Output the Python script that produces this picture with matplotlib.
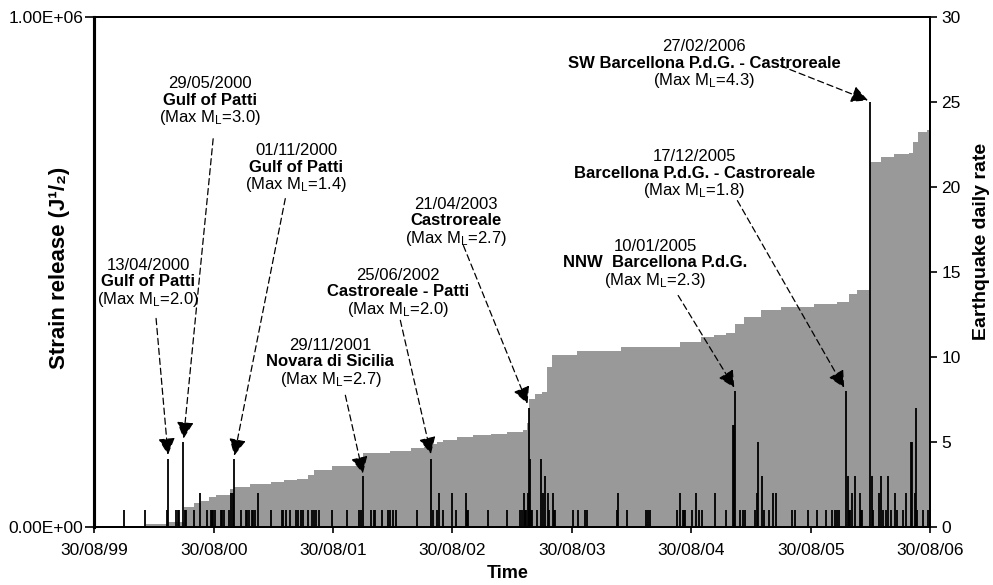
import matplotlib
matplotlib.use("Agg")
import matplotlib.pyplot as plt
import matplotlib.dates as mdates
from datetime import datetime, timedelta

plt.rcParams["font.family"] = ["Liberation Sans", "DejaVu Sans"]
plt.rcParams["mathtext.fontset"] = "custom"
plt.rcParams["mathtext.rm"] = "Liberation Sans"
plt.rcParams["mathtext.default"] = "regular"

# cumulative strain release (step curve), decimal years
strain_years = [2000.094, 2000.27, 2000.415, 2000.50, 2000.555, 2000.62, 2000.68, 2000.80,
                2000.835, 2000.97, 2001.14, 2001.25, 2001.36, 2001.45, 2001.50, 2001.65,
                2001.91, 2002.14, 2002.31, 2002.42, 2002.475, 2002.53, 2002.58, 2002.70,
                2002.835, 2002.98, 2003.12, 2003.25, 2003.285, 2003.30, 2003.355, 2003.41,
                2003.45, 2003.495, 2003.70, 2004.07, 2004.57, 2004.74, 2004.85, 2004.95,
                2005.03, 2005.10, 2005.24, 2005.41, 2005.685, 2005.88, 2005.98, 2006.05,
                2006.16, 2006.245, 2006.355, 2006.48, 2006.52, 2006.555, 2006.635, 2006.67]
strain_vals = [5000, 10000, 40000, 47000, 51000, 59000, 63000, 74000,
               78000, 85000, 89000, 92000, 95000, 102000, 111000, 119000,
               145000, 149000, 154000, 157000, 162000, 167000, 170000, 176000,
               180000, 183000, 186000, 191000, 203000, 252000, 260000, 265000,
               314000, 337000, 345000, 353000, 363000, 372000, 376000, 380000,
               399000, 412000, 426000, 432000, 438000, 441000, 457000, 465000,
               715000, 725000, 731000, 734000, 754000, 774000, 778000, 778000]

# daily earthquake counts (unlabelled days)
bar_years = [1999.91, 2000.09, 2000.27, 2000.35, 2000.36, 2000.37, 2000.42, 2000.43, 2000.50, 2000.55,
             2000.61, 2000.64, 2000.65, 2000.66, 2000.67, 2000.72, 2000.73, 2000.75, 2000.79, 2000.81,
             2000.82, 2000.89, 2000.93, 2000.94, 2000.96, 2000.98, 2000.99, 2001.01, 2001.03, 2001.14,
             2001.23, 2001.24, 2001.27, 2001.30, 2001.35, 2001.37, 2001.39, 2001.41, 2001.45, 2001.48,
             2001.50, 2001.52, 2001.54, 2001.65, 2001.78, 2001.88, 2001.89,
             2001.98, 2002.00, 2002.01, 2002.07, 2002.12, 2002.14, 2002.16, 2002.19, 2002.36, 2002.50,
             2002.53, 2002.55, 2002.58, 2002.66, 2002.69, 2002.77, 2002.78, 2002.79, 2002.96,
             2003.12, 2003.23, 2003.24, 2003.26, 2003.27, 2003.28, 2003.29, 2003.31, 2003.32, 2003.33,
             2003.37, 2003.40, 2003.42, 2003.44, 2003.46, 2003.47, 2003.50, 2003.51, 2003.52, 2003.67,
             2003.71, 2003.77, 2003.79,
             2004.04, 2004.05, 2004.12, 2004.28, 2004.30, 2004.32, 2004.54, 2004.57, 2004.59, 2004.60,
             2004.61, 2004.67, 2004.70, 2004.73, 2004.75, 2004.86, 2004.95,
             2005.01, 2005.02, 2005.07, 2005.09, 2005.11, 2005.19, 2005.21, 2005.22, 2005.25, 2005.27,
             2005.31, 2005.34, 2005.37, 2005.50, 2005.53, 2005.64, 2005.71, 2005.79, 2005.84, 2005.86,
             2005.88, 2005.90, 2005.97, 2005.98, 2005.99,
             2006.01, 2006.03, 2006.07, 2006.08, 2006.09, 2006.17, 2006.18, 2006.23, 2006.25, 2006.27,
             2006.29, 2006.31, 2006.33, 2006.37, 2006.38, 2006.43, 2006.46, 2006.50, 2006.51, 2006.53,
             2006.54, 2006.55, 2006.60, 2006.64]
bar_rates = [1, 1, 1, 1, 1, 1, 1, 1, 1, 2,
             1, 1, 1, 1, 1, 1, 1, 1, 1, 2,
             2, 1, 1, 1, 1, 1, 1, 1, 2, 1,
             1, 1, 1, 1, 1, 1, 1, 1, 1, 1,
             1, 1, 1, 1, 1, 1, 1,
             1, 1, 1, 1, 1, 1, 1, 1, 1, 1,
             1, 2, 1, 2, 1, 2, 1, 1, 1,
             1, 1, 1, 2, 1, 1, 2, 4, 1, 1,
             1, 4, 2, 3, 2, 1, 2, 1, 1, 1,
             1, 1, 1,
             1, 2, 1, 1, 1, 1, 1, 2, 1, 1,
             1, 1, 2, 1, 1, 2, 1,
             6, 6, 1, 1, 1, 1, 2, 5, 3, 1,
             1, 2, 2, 1, 1, 1, 1, 1, 1, 1,
             1, 1, 3, 1, 1,
             2, 3, 2, 1, 1, 3, 1, 2, 3, 1,
             1, 3, 1, 2, 1, 1, 2, 5, 5, 2,
             7, 1, 1, 1]

# labelled sequences
ann_dates = ["13/04/2000", "29/05/2000", "01/11/2000", "29/11/2001", "25/06/2002",
             "21/04/2003", "10/01/2005", "17/12/2005", "27/02/2006"]
ann_places = ["Gulf of Patti", "Gulf of Patti", "Gulf of Patti", "Novara di Sicilia",
              "Castroreale - Patti", "Castroreale", "NNW  Barcellona P.d.G.",
              "Barcellona P.d.G. - Castroreale", "SW Barcellona P.d.G. - Castroreale"]
ann_ml = ["2.0", "3.0", "1.4", "2.7", "2.0", "2.7", "2.3", "1.8", "4.3"]
ann_peak = [4, 5, 4, 3, 4, 7, 8, 8, 25]
ann_text_x = [2000.113, 2000.633, 2001.353, 2001.638, 2002.207, 2002.693, 2004.36, 2004.686, 2004.77]
ann_text_y = [14.50, 25.19, 21.26, 9.81, 13.92, 18.09, 15.62, 20.90, 27.36]
ann_tail_x = [2000.18, 2000.658, 2001.26, 2001.763, 2002.224, 2002.752, 2004.552, 2005.046, 2005.407]
ann_tail_y = [12.27, 22.84, 19.32, 7.75, 12.16, 16.56, 13.62, 19.20, 27.13]
ann_tip_x = [2000.28, 2000.41, 2000.835, 2001.91, 2002.48, 2003.29, 2005.02, 2005.94, 2006.14]
ann_tip_y = [4.25, 5.2, 4.2, 3.15, 4.3, 7.25, 8.2, 8.2, 25.1]


def dec_year(y):
    yr = int(y)
    return datetime(yr, 1, 1) + timedelta(days=(y - yr) * 365.25)


fig = plt.figure(figsize=(9.93, 5.85), dpi=100)
ax = fig.add_axes([0.0947, 0.0991, 0.8419, 0.8718])
ax2 = ax.twinx()

ax.fill_between([dec_year(y) for y in strain_years], strain_vals, step="post",
                color="#999999", lw=0)
ax.set_ylim(0, 1e6)
ax.set_yticks([0, 1e6])
ax.set_yticklabels(["0.00E+00", "1.00E+06"])
ax.set_xlim(datetime(1999, 8, 30), datetime(2006, 8, 30))
ax.set_xticks([datetime(y, 8, 30) for y in range(1999, 2007)])
ax.xaxis.set_major_formatter(mdates.DateFormatter("%d/%m/%y"))

# bars
dates = [dec_year(y) for y in bar_years] + [datetime.strptime(d, "%d/%m/%Y") for d in ann_dates]
rates = bar_rates + ann_peak
ax2.vlines(dates, 0, rates, colors="black", lw=1.3)
ax2.set_ylim(0, 30)
ax2.set_yticks(range(0, 31, 5))

# annotations
for i in range(len(ann_dates)):
    tx = dec_year(ann_text_x[i])
    ty = ann_text_y[i]
    ax2.annotate(ann_dates[i], (tx, ty), xytext=(0, 7.7), textcoords="offset points",
                 ha="center", va="baseline", fontsize=12)
    ax2.annotate(ann_places[i], (tx, ty), xytext=(0, -4.3), textcoords="offset points",
                 ha="center", va="baseline", fontsize=12, fontweight="bold")
    ax2.annotate("(Max M$_{L}$=" + ann_ml[i] + ")", (tx, ty), xytext=(0, -16.8),
                 textcoords="offset points", ha="center", va="baseline", fontsize=12)
    ax2.annotate("", xy=(dec_year(ann_tip_x[i]), ann_tip_y[i]),
                 xytext=(dec_year(ann_tail_x[i]), ann_tail_y[i]),
                 arrowprops=dict(arrowstyle="-|>,head_length=0.6,head_width=0.3",
                                 mutation_scale=17, lw=0.9, ls=(0, (5, 3)),
                                 color="black", shrinkA=0, shrinkB=0))

# axes styling
for a in (ax, ax2):
    for side in ("top", "right", "bottom"):
        a.spines[side].set_linewidth(1.4)
    a.spines["left"].set_linewidth(2.2)
ax.tick_params(axis="y", direction="out", length=6.5, width=1.2, pad=1, labelsize=12.5)
ax.tick_params(axis="x", direction="out", length=4.5, width=1.2, pad=7, labelsize=12.5)
ax2.tick_params(axis="y", direction="out", length=5, width=1.2, pad=3, labelsize=12.5)

ax.set_ylabel("Strain release (J¹/₂)", fontsize=16, fontweight="bold")
ax.yaxis.set_label_coords(-0.029, 0.508)
ax2.set_ylabel("Earthquake daily rate", fontsize=14, fontweight="bold")
ax2.yaxis.set_label_coords(1.051, 0.56)
ax.set_xlabel("Time", fontsize=13, fontweight="bold")
ax.xaxis.set_label_coords(0.495, -0.0745)

fig.savefig("out.png", dpi=100)
